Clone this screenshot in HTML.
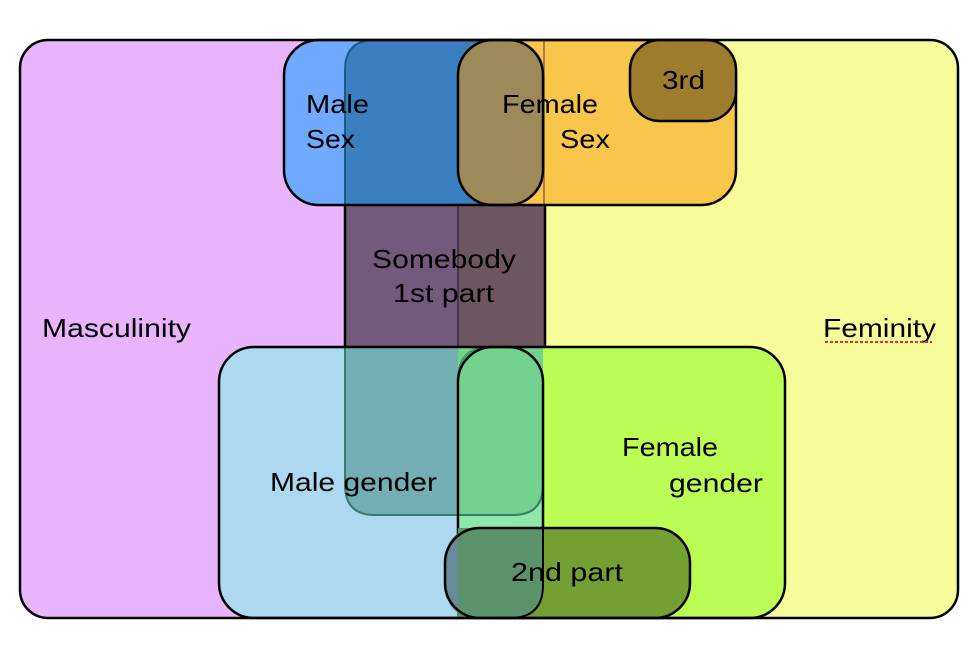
<!DOCTYPE html>
<html><head><meta charset="utf-8"><style>
html,body{margin:0;padding:0;background:#fff;}
svg{display:block;}
text{font-family:"Liberation Sans",sans-serif;font-size:26px;fill:#000;}
</style></head><body>
<svg width="978" height="662" viewBox="0 0 978 662">
<rect x="20" y="40" width="938" height="578" rx="28" fill="#f7fc9b"/>
<path d="M48 40 H458 V618 H48 Q20 618 20 590 V68 Q20 40 48 40Z" fill="#e8b4fb"/>
<path d="M375 40 H458 V515 H375 Q345 515 345 485 V70 Q345 40 375 40Z" fill="#735a7c"/>
<path d="M458 40 H515 Q545 40 545 70 V485 Q545 515 515 515 H458Z" fill="#6e5660"/>
<line x1="458" y1="40" x2="458" y2="347" stroke="#3a2a4a" stroke-width="1.5"/>
<path d="M545 205 V347" stroke="#000" stroke-width="2.5"/>
<path d="M345 205 V347" stroke="#000" stroke-width="2.5"/>
<rect x="284" y="40" width="259" height="165" rx="35" fill="#70aaff"/>
<path d="M375 40 H490 V205 H345 V70 Q345 40 375 40Z" fill="#3a7fbf"/>
<path d="M490 40 H701 Q736 40 736 75 V170 Q736 205 701 205 H490Z" fill="#f9c64c"/>
<rect x="543" y="40" width="2" height="165" fill="#b07a3a"/>
<rect x="458" y="40" width="87" height="165" rx="35" fill="#9e8a58"/>
<path d="M345 205 V70 Q345 40 375 40" fill="none" stroke="#1c5a88" stroke-width="2"/>
<rect x="284" y="40" width="259" height="165" rx="35" fill="none" stroke="#000" stroke-width="2.5"/>
<rect x="458" y="40" width="278" height="165" rx="35" fill="none" stroke="#000" stroke-width="2.5"/>
<rect x="630" y="40" width="106" height="81" rx="30" fill="#9e7c2e" stroke="#000" stroke-width="2.5"/>
<rect x="219" y="347" width="324" height="271" rx="35" fill="#acd8f0"/>
<rect x="458" y="347" width="327" height="271" rx="35" fill="#bbfd55"/>
<rect x="458" y="347" width="85" height="271" rx="35" fill="#8ee8a8"/>
<path d="M345 347 H458 V515 H375 Q345 515 345 485Z" fill="#72aeb3"/>
<path d="M458 347 H543 V485 Q543 515 513 515 H458Z" fill="#72d28e"/>
<path d="M345 347 V485 Q345 515 375 515 H513 Q543 515 543 485" fill="none" stroke="#3a7a70" stroke-width="2"/>
<path d="M458 618 V380 Q458 347 490 347" fill="none" stroke="#3a9a60" stroke-width="2"/>
<rect x="219" y="347" width="324" height="271" rx="35" fill="none" stroke="#000" stroke-width="2.5"/>
<rect x="458" y="347" width="327" height="271" rx="35" fill="none" stroke="#000" stroke-width="2.5"/>
<rect x="445" y="528" width="245" height="90" rx="35" fill="#739f33"/>
<path d="M480 528 H458 V618 H480 Q445 618 445 583 V563 Q445 528 480 528Z" fill="#6a8a9a"/>
<path d="M458 528 H543 V585 Q543 618 510 618 H458Z" fill="#5a936a"/>
<rect x="445" y="528" width="245" height="90" rx="35" fill="none" stroke="#000" stroke-width="2.5"/>
<path d="M543 528 V585 Q543 618 510 618" fill="none" stroke="#000" stroke-width="2"/>
<rect x="20" y="40" width="938" height="578" rx="28" fill="none" stroke="#000" stroke-width="2.5"/>
<text x="306" y="113" textLength="63" lengthAdjust="spacingAndGlyphs">Male</text>
<text x="306" y="148" textLength="49" lengthAdjust="spacingAndGlyphs">Sex</text>
<text x="502" y="113" textLength="96" lengthAdjust="spacingAndGlyphs">Female</text>
<text x="560" y="148" textLength="50" lengthAdjust="spacingAndGlyphs">Sex</text>
<text x="662" y="89" textLength="43" lengthAdjust="spacingAndGlyphs">3rd</text>
<text x="372" y="268" textLength="144" lengthAdjust="spacingAndGlyphs">Somebody</text>
<text x="393" y="302" textLength="101" lengthAdjust="spacingAndGlyphs">1st part</text>
<text x="42" y="337" textLength="149" lengthAdjust="spacingAndGlyphs">Masculinity</text>
<text x="823" y="337" textLength="113" lengthAdjust="spacingAndGlyphs">Feminity</text>
<path d="M825 342 H932" stroke="#e03030" stroke-width="2" stroke-dasharray="3,2"/>
<text x="622" y="456" textLength="96" lengthAdjust="spacingAndGlyphs">Female</text>
<text x="669" y="492" textLength="94" lengthAdjust="spacingAndGlyphs">gender</text>
<text x="270" y="491" textLength="167" lengthAdjust="spacingAndGlyphs">Male gender</text>
<text x="511" y="581" textLength="112" lengthAdjust="spacingAndGlyphs">2nd part</text>
</svg>
</body></html>
